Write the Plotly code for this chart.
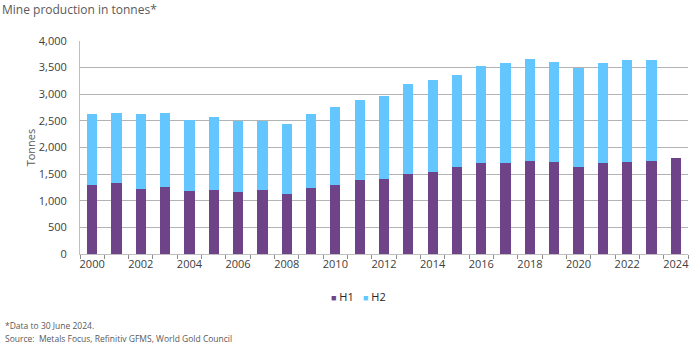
import plotly.graph_objects as go

years = list(range(2000, 2025))
h1 = [1298, 1330, 1223, 1266, 1191, 1204, 1172, 1210, 1135, 1235, 1298, 1385, 1416,
      1498, 1535, 1629, 1715, 1715, 1753, 1728, 1629, 1704, 1728, 1753, 1803]
totals = [2627, 2652, 2633, 2640, 2509, 2577, 2502, 2502, 2434, 2627, 2764, 2889, 2958,
          3189, 3277, 3363, 3532, 3588, 3663, 3607, 3494, 3588, 3644, 3651, None]
h2 = [(t - a) if t is not None else None for t, a in zip(totals, h1)]
series_names = ["H1", "H2"]
tick_years = list(range(2000, 2025, 2))
y_ticks = list(range(0, 4001, 500))

PURPLE = "#6e4387"
BLUE = "#63c6ff"
COLORS = [PURPLE, BLUE]
FONT = "Open Sans"

fig = go.Figure()
for name, vals, col in zip(series_names, [h1, h2], COLORS):
    fig.add_trace(go.Bar(x=years, y=vals, name=name, showlegend=False,
                         marker=dict(color=col, line=dict(width=0))))

fig.update_layout(
    width=700, height=349,
    barmode="stack", bargap=0.58,
    margin=dict(l=80, r=12, t=41, b=95),
    paper_bgcolor="white", plot_bgcolor="white",
    font=dict(family=FONT, size=11, color="#404040"),
    showlegend=False,
    xaxis=dict(
        range=[1999.5, 2024.5], tickmode="array", tickvals=tick_years,
        ticktext=[str(y) for y in tick_years], ticks="", showgrid=False,
        showline=True, linecolor="#bfbfbf", linewidth=1,
        tickfont=dict(size=11, color="#404040"),
        minor=dict(tickmode="linear", tick0=1999.5, dtick=1, ticks="outside",
                   ticklen=4, tickcolor="#8c8c8c", showgrid=False),
    ),
    yaxis=dict(
        range=[0, 4000], tickmode="array", tickvals=y_ticks,
        ticktext=[f"{v:,}" for v in y_ticks],
        showgrid=True, gridcolor="#b3b3b3", gridwidth=1,
        showline=True, linecolor="#bfbfbf", linewidth=1,
        zeroline=False, ticks="", ticklabelstandoff=10,
        tickfont=dict(size=11, color="#404040"),
        title=dict(text="Tonnes", font=dict(size=11, color="#595959"), standoff=0),
    ),
)

# legend entries (small squares, tight spacing as in the reference)
legend_x_px = [329, 361]
for name, col, xp in zip(series_names, COLORS, legend_x_px):
    fig.add_annotation(
        text=f"<span style='color:{col};font-size:9px'>■</span> {name}",
        xref="paper", yref="paper", x=(xp - 80) / 608, y=(254 - 296) / 213,
        xanchor="left", yanchor="middle", showarrow=False,
        font=dict(size=11, color="#262626"))

fig.add_annotation(text="Mine production in tonnes*", xref="paper", yref="paper",
                   x=-80/608, y=1 + 31/213, xanchor="left", yanchor="middle",
                   showarrow=False, font=dict(size=12, color="#595959"))
fig.add_annotation(text="*Data to 30 June 2024.", xref="paper", yref="paper",
                   x=-77/608, y=-71/213, xanchor="left", yanchor="middle",
                   showarrow=False, font=dict(size=8.5, color="#595959"))
fig.add_annotation(text="Source:  Metals Focus, Refinitiv GFMS, World Gold Council", xref="paper", yref="paper",
                   x=-77/608, y=-84/213, xanchor="left", yanchor="middle",
                   showarrow=False, font=dict(size=8.5, color="#595959"))

fig.write_html("out.html")
